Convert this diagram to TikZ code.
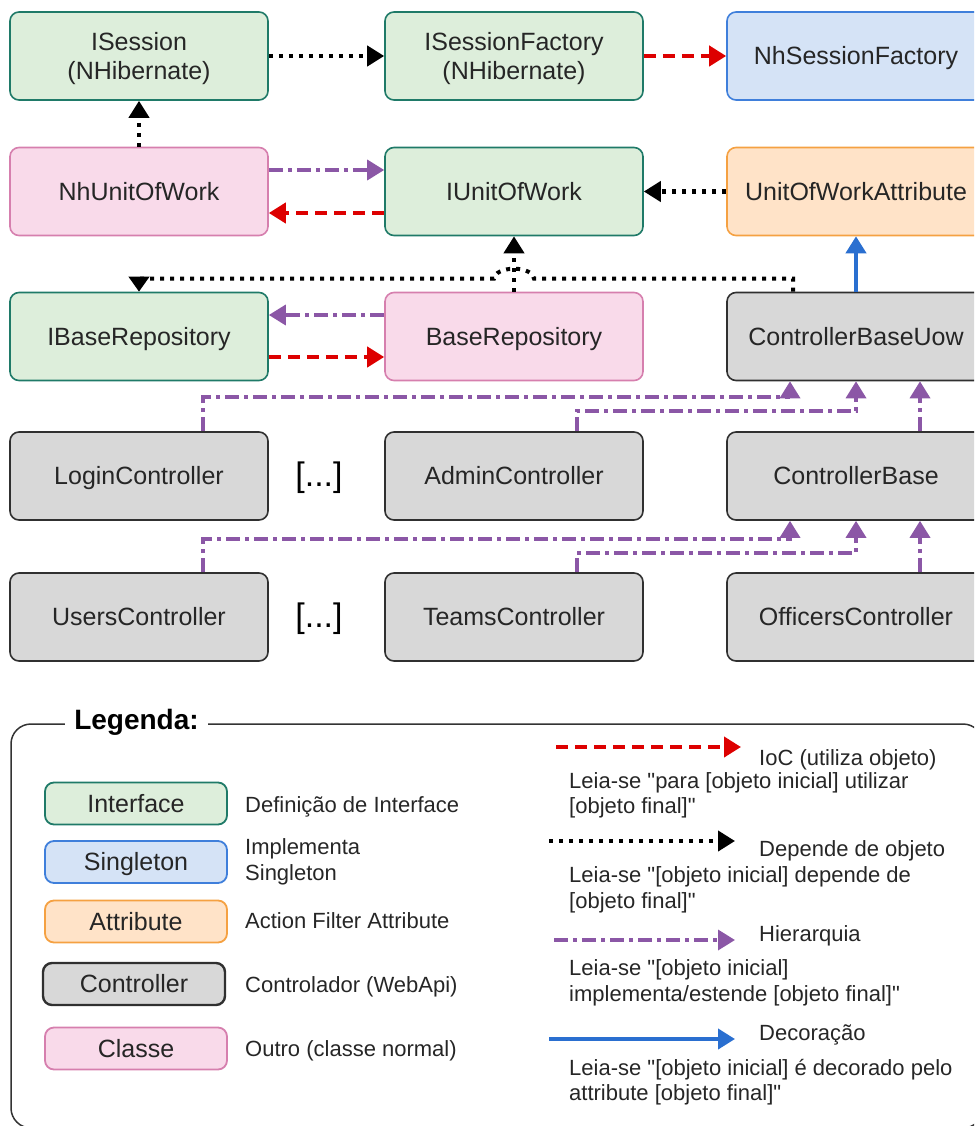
\documentclass[tikz,border=0pt]{standalone}
\usepackage{fontspec}
\setmainfont{Liberation Sans}[Ligatures=TeXOff]
\usetikzlibrary{arrows.meta,calc}

\definecolor{ifill}{HTML}{DDEEDB}
\definecolor{iline}{HTML}{1F7A68}
\definecolor{sfill}{HTML}{D5E3F6}
\definecolor{sline}{HTML}{3F7FDB}
\definecolor{afill}{HTML}{FFE3C8}
\definecolor{aline}{HTML}{F5A142}
\definecolor{cfill}{HTML}{D8D8D8}
\definecolor{cline}{HTML}{303030}
\definecolor{pfill}{HTML}{F9DAEA}
\definecolor{pline}{HTML}{D67FAE}
\definecolor{iocred}{HTML}{DD0000}
\definecolor{hierpurple}{HTML}{8B57A6}
\definecolor{decoblue}{HTML}{2A6FD0}
\definecolor{txt}{HTML}{262626}

\begin{document}
\begin{tikzpicture}[x=1pt,y=-1pt,
  box/.style={rounded corners=9pt, line width=1.6pt, minimum width=258pt,
    minimum height=88pt, inner sep=0pt, align=center, text=txt,
    text height=22.6pt, text depth=5.3pt,
    font=\fontsize{25}{28.5}\selectfont},
  twoline/.style={text height=51.5pt, text depth=5.3pt},
  iface/.style={box, fill=ifill, draw=iline},
  single/.style={box, fill=sfill, draw=sline},
  attr/.style={box, fill=afill, draw=aline},
  ctrl/.style={box, fill=cfill, draw=cline},
  cls/.style={box, fill=pfill, draw=pline},
  lbox/.style={minimum width=182pt, minimum height=42pt, line width=1.8pt},
  ellip/.style={font=\fontsize{34}{38}\selectfont, text=black},
  ltext/.style={anchor=base west, inner sep=0pt, text=txt,
    font=\fontsize{22}{25}\selectfont},
  tip/.style={-{Triangle[length=17pt,width=20pt]}},
  iocline/.style={tip, draw=iocred, line width=4pt,
    dash pattern=on 12pt off 7pt},
  depline/.style={tip, draw=black, line width=4pt,
    dash pattern=on 4pt off 6pt},
  hierline/.style={tip, draw=hierpurple, line width=3.5pt,
    dash pattern=on 14pt off 5pt on 4pt off 5pt},
  decoline/.style={tip, draw=decoblue, line width=4pt},
]
\useasboundingbox (0,0) rectangle (974,1126);
\clip (0,0) rectangle (974,1126);

% ---- class nodes ----
\node[iface, twoline] (isess) at (139,56) {ISession\\(NHibernate)};
\node[iface, twoline] (isf)   at (514,56) {ISessionFactory\\(NHibernate)};
\node[single] (nsf)      at (856,56)    {NhSessionFactory};
\node[cls]    (nuow)     at (139,191.5) {NhUnitOfWork};
\node[iface]  (iuow)     at (514,191.5) {IUnitOfWork};
\node[attr]   (uowa)     at (856,191.5) {UnitOfWorkAttribute};
\node[iface]  (ibr)      at (139,336.5) {IBaseRepository};
\node[cls]    (br)       at (514,336.5) {BaseRepository};
\node[ctrl]   (cbu)      at (856,336.5) {ControllerBaseUow};
\node[ctrl]   (login)    at (139,476)   {LoginController};
\node[ellip]  (more1)    at (319,478)   {[...]};
\node[ctrl]   (admin)    at (514,476)   {AdminController};
\node[ctrl]   (cb)       at (856,476)   {ControllerBase};
\node[ctrl]   (users)    at (139,617)   {UsersController};
\node[ellip]  (more2)    at (319,619)   {[...]};
\node[ctrl]   (teams)    at (514,617)   {TeamsController};
\node[ctrl]   (officers) at (856,617)   {OfficersController};

% ---- relations ----
\draw[depline] (isess) -- (isf);
\draw[iocline] (isf) -- (nsf);
\draw[depline] (nuow) -- (isess);
\draw[hierline] ([yshift=21.5pt]nuow.east) -- ([yshift=21.5pt]iuow.west);
\draw[iocline] ([yshift=-21.5pt]iuow.west) -- ([yshift=-21.5pt]nuow.east);
\draw[depline] (uowa) -- (iuow);
\draw[depline] (br) -- (iuow);
\draw[decoline] (cbu) -- (uowa);
\draw[hierline] ([yshift=21.5pt]br.west) -- ([yshift=21.5pt]ibr.east);
\draw[iocline] ([yshift=-20.5pt]ibr.east) -- ([yshift=-20.5pt]br.west);
% dependency with a line jump over the BaseRepository link
\draw[depline, -{Triangle[length=15pt,width=20pt]}]
  ([xshift=-63pt]cbu.north) -- ++(0,-13) coordinate (jr)
  -- ([xshift=20pt]br.north |- jr)
  arc[start angle=0, end angle=180, x radius=20pt, y radius=10pt]
  -- (ibr.north |- jr) -- (ibr.north);

\draw[hierline] ([xshift=64pt]login.north) -- ++(0,-34) -| ([xshift=-66pt]cbu.south);
\draw[hierline] ([xshift=63pt]admin.north) -- ++(0,-20) -| (cbu.south);
\draw[hierline] ([xshift=64pt]cb.north) -- ([xshift=64pt]cbu.south);
\draw[hierline] ([xshift=64pt]users.north) -- ++(0,-33) -| ([xshift=-66pt]cb.south);
\draw[hierline] ([xshift=63pt]teams.north) -- ++(0,-19) -| (cb.south);
\draw[hierline] ([xshift=64pt]officers.north) -- ([xshift=64pt]cb.south);

% ---- legend ----
\draw[line width=1.5pt, draw=black!80, rounded corners=20pt]
  (11,724) rectangle (983,1128);
\node[fill=white, inner xsep=9pt, inner ysep=2pt, text=black,
  font=\fontsize{28}{32}\selectfont\bfseries] (legtitle) at (136.5,722) {Legenda:};

\node[iface, lbox] (lgi) at (136,803.5)  {Interface};
\node[single, lbox] (lgs) at (136,862)   {Singleton};
\node[attr, lbox]  (lga) at (136,921.5)  {Attribute};
\node[ctrl, lbox, line width=2.4pt] (lgc) at (134,984) {Controller};
\node[cls, lbox]   (lgp) at (136,1048.5) {Classe};

\node[ltext] (di)  at (245,812)  {Definição de Interface};
\node[ltext] (ds1) at (245,854)  {Implementa};
\node[ltext] (ds2) at (245,880)  {Singleton};
\node[ltext] (da)  at (245,928)  {Action Filter Attribute};
\node[ltext] (dc)  at (245,992)  {Controlador (WebApi)};
\node[ltext] (dp)  at (245,1056) {Outro (classe normal)};

\coordinate (r0) at (556,747);  \coordinate (r1) at (741,747);
\draw[iocline] (r0) -- (r1);
\node[ltext] (rt)  at (759,765)  {IoC (utiliza objeto)};
\node[ltext] (rl1) at (569,788)  {Leia-se "para [objeto inicial] utilizar};
\node[ltext] (rl2) at (569,813)  {[objeto final]"};

\coordinate (k0) at (549,841);  \coordinate (k1) at (735,841);
\draw[depline] (k0) -- (k1);
\node[ltext] (kt)  at (759,856)  {Depende de objeto};
\node[ltext] (kl1) at (569,882)  {Leia-se "[objeto inicial] depende de};
\node[ltext] (kl2) at (569,908)  {[objeto final]"};

\coordinate (h0) at (554,940);  \coordinate (h1) at (735,940);
\draw[hierline] (h0) -- (h1);
\node[ltext] (ht)  at (759,941)  {Hierarquia};
\node[ltext] (hl1) at (569,975)  {Leia-se "[objeto inicial]};
\node[ltext] (hl2) at (569,1001) {implementa/estende [objeto final]"};

\coordinate (b0) at (549,1039); \coordinate (b1) at (735,1039);
\draw[decoline] (b0) -- (b1);
\node[ltext] (bt)  at (759,1040) {Decoração};
\node[ltext] (bl1) at (569,1075) {Leia-se "[objeto inicial] é decorado pelo};
\node[ltext] (bl2) at (569,1100) {attribute [objeto final]"};
\end{tikzpicture}
\end{document}
